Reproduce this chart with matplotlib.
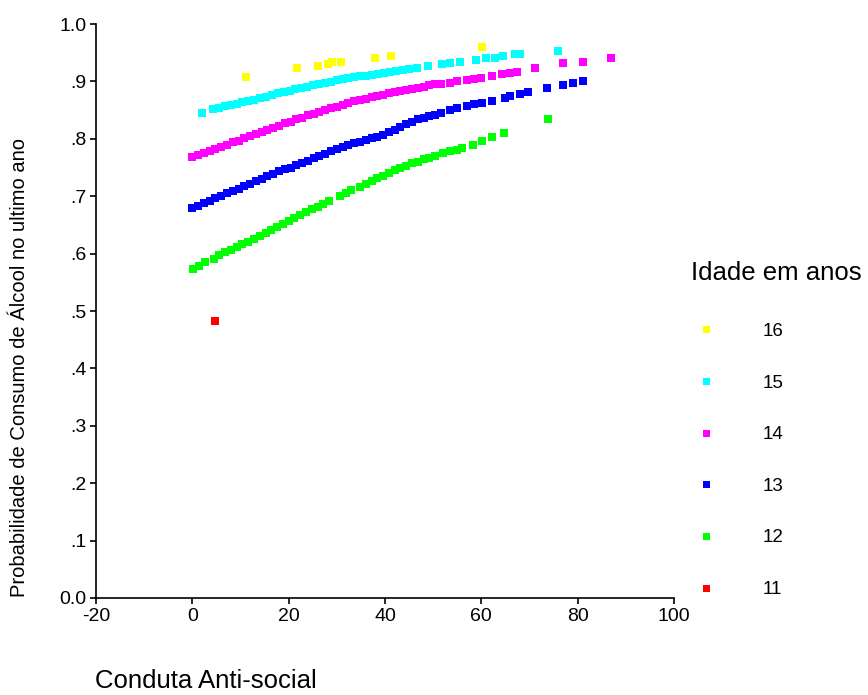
import matplotlib
matplotlib.use("Agg")
import matplotlib.pyplot as plt

plt.rcParams['font.family'] = ['Liberation Sans', 'DejaVu Sans']
plt.rcParams['axes.unicode_minus'] = False

# idade 16
x16 = [11.1, 21.7, 26.1, 28.2, 29.0, 30.9, 38.0, 41.3, 60.2]
y16 = [0.907, 0.923, 0.927, 0.930, 0.934, 0.934, 0.941, 0.944, 0.960]

# idade 15
x15 = [2.0, 4.3, 5.5, 6.8, 8.0, 9.2, 10.4, 11.6, 12.8, 14.0, 15.2, 16.5, 17.7, 19.0,
       20.2, 21.4, 22.6, 23.8, 25.0, 26.2, 27.5, 28.7, 30.0, 31.2, 32.4, 33.6, 34.8,
       36.0, 37.3, 38.5, 39.8, 41.0, 42.3, 43.7, 45.0, 46.6, 48.9, 51.8, 53.5, 55.6,
       58.9, 61.0, 62.8, 64.5, 67.0, 68.0, 75.9]
y15 = [0.845, 0.852, 0.854, 0.857, 0.859, 0.861, 0.864, 0.866, 0.868, 0.871, 0.873,
       0.876, 0.879, 0.881, 0.884, 0.886, 0.888, 0.891, 0.893, 0.895, 0.897, 0.899,
       0.902, 0.904, 0.906, 0.907, 0.909, 0.910, 0.912, 0.913, 0.915, 0.916, 0.918,
       0.920, 0.922, 0.924, 0.927, 0.930, 0.932, 0.934, 0.937, 0.940, 0.941, 0.944,
       0.947, 0.948, 0.953]

# idade 14
x14 = [0.0, 1.2, 2.4, 3.6, 4.8, 6.0, 7.2, 8.4, 9.6, 10.8, 12.0, 13.2, 14.4, 15.6,
       16.8, 18.0, 19.2, 20.4, 21.6, 22.8, 24.0, 25.2, 26.4, 27.6, 28.8, 30.0, 31.2,
       32.4, 33.6, 34.8, 36.0, 37.2, 38.4, 39.6, 40.8, 42.0, 43.2, 44.4, 45.6, 46.8,
       48.0, 49.2, 50.4, 51.6, 53.5, 55.0, 57.0, 58.5, 60.0, 62.2, 64.3, 66.0, 67.5,
       71.2, 77.0, 81.1, 86.9]
y14 = [0.768, 0.772, 0.775, 0.779, 0.783, 0.786, 0.790, 0.794, 0.797, 0.801, 0.805,
       0.808, 0.812, 0.816, 0.819, 0.823, 0.827, 0.830, 0.834, 0.837, 0.841, 0.844,
       0.847, 0.850, 0.853, 0.856, 0.859, 0.862, 0.865, 0.867, 0.870, 0.872, 0.874,
       0.877, 0.879, 0.881, 0.883, 0.885, 0.887, 0.889, 0.891, 0.893, 0.895, 0.896,
       0.898, 0.900, 0.902, 0.904, 0.906, 0.909, 0.913, 0.915, 0.917, 0.923, 0.932,
       0.934, 0.941]

# idade 13
x13 = [0.0, 1.2, 2.4, 3.6, 4.8, 6.0, 7.2, 8.4, 9.6, 10.8, 12.0, 13.2, 14.4, 15.6,
       16.8, 18.0, 19.2, 20.4, 21.6, 22.8, 24.0, 25.2, 26.4, 27.6, 28.8, 30.0, 31.2,
       32.4, 33.6, 34.8, 36.0, 37.2, 38.4, 39.6, 40.8, 42.0, 43.2, 44.4, 45.6, 46.8,
       48.0, 49.2, 50.4, 51.6, 53.5, 55.0, 57.0, 58.5, 60.1, 62.2, 64.9, 66.0, 68.0,
       69.7, 73.6, 77.0, 79.0, 81.1]
y13 = [0.679, 0.683, 0.688, 0.692, 0.697, 0.701, 0.705, 0.709, 0.713, 0.717, 0.721,
       0.726, 0.730, 0.735, 0.739, 0.744, 0.747, 0.750, 0.754, 0.757, 0.761, 0.766,
       0.770, 0.774, 0.778, 0.782, 0.786, 0.789, 0.792, 0.795, 0.798, 0.801, 0.804,
       0.807, 0.811, 0.816, 0.821, 0.825, 0.830, 0.834, 0.837, 0.839, 0.842, 0.845,
       0.850, 0.853, 0.857, 0.860, 0.862, 0.865, 0.871, 0.874, 0.878, 0.881, 0.888,
       0.894, 0.897, 0.901]

# idade 12
x12 = [0.2, 1.4, 2.6, 4.4, 5.6, 6.8, 8.0, 9.2, 10.4, 11.6, 12.8, 14.0, 15.2, 16.4,
       17.6, 18.8, 20.0, 21.2, 22.4, 23.6, 24.8, 26.0, 27.2, 28.4, 30.6, 31.8, 33.0,
       34.8, 36.0, 37.2, 38.4, 39.6, 40.8, 42.0, 43.2, 44.4, 45.6, 46.8, 48.0, 49.2,
       50.4, 52.1, 53.5, 55.0, 56.0, 58.3, 60.1, 62.2, 64.7, 73.9]
y12 = [0.574, 0.579, 0.585, 0.591, 0.597, 0.602, 0.607, 0.611, 0.616, 0.621, 0.626,
       0.631, 0.636, 0.641, 0.647, 0.652, 0.657, 0.662, 0.667, 0.672, 0.677, 0.682,
       0.687, 0.692, 0.700, 0.705, 0.710, 0.716, 0.721, 0.726, 0.731, 0.736, 0.741,
       0.745, 0.749, 0.753, 0.757, 0.760, 0.764, 0.767, 0.770, 0.775, 0.778, 0.781,
       0.784, 0.790, 0.796, 0.803, 0.810, 0.834]

# idade 11
x11 = [4.7]
y11 = [0.483]

idades = ['16', '15', '14', '13', '12', '11']
cores = ['#ffff00', '#00ffff', '#ff00ff', '#0000ff', '#00ff00', '#ff0000']
series = [(x16, y16), (x15, y15), (x14, y14), (x13, y13), (x12, y12), (x11, y11)]

fig = plt.figure(figsize=(8.68, 6.95), dpi=100)
ax = fig.add_axes([96 / 868, 1 - 598 / 695, 578 / 868, 574 / 695])

for (xs, ys), cor, idade in zip(series, cores, idades):
    ax.plot(xs, ys, linestyle='none', marker='s', markersize=5.6,
            markeredgewidth=0, color=cor, label=idade)

ax.set_xlim(-20, 100)
ax.set_ylim(0, 1.0)
ax.set_xticks([-20, 0, 20, 40, 60, 80, 100])
ax.set_yticks([i / 10 for i in range(11)])
ax.set_yticklabels(['0.0', '.1', '.2', '.3', '.4', '.5', '.6', '.7', '.8', '.9', '1.0'])
ax.tick_params(direction='out', length=4, width=1.2, labelsize=14, pad=3)
for lado in ['top', 'right']:
    ax.spines[lado].set_visible(False)
for lado in ['left', 'bottom']:
    ax.spines[lado].set_linewidth(1.2)

fig.text(20 / 868, 1 - 597 / 695, 'Probabilidade de Consumo de Álcool no ultimo ano',
         rotation=90, ha='center', va='bottom', fontsize=14.5)
fig.text(95 / 868, 1 - 681 / 695, 'Conduta Anti-social', ha='left', va='center',
         fontsize=18.5)

leg = ax.legend(loc='upper left', bbox_to_anchor=(682 / 868, 1 - 252 / 695),
                bbox_transform=fig.transFigure, frameon=False, title='Idade em anos',
                title_fontsize=18.5, fontsize=13.5, alignment='left', numpoints=1,
                handlelength=1.6, handletextpad=2.2, labelspacing=1.84,
                markerscale=0.9, borderpad=0)
leg._legend_box.sep = 27

fig.savefig('out.png', dpi=100)
